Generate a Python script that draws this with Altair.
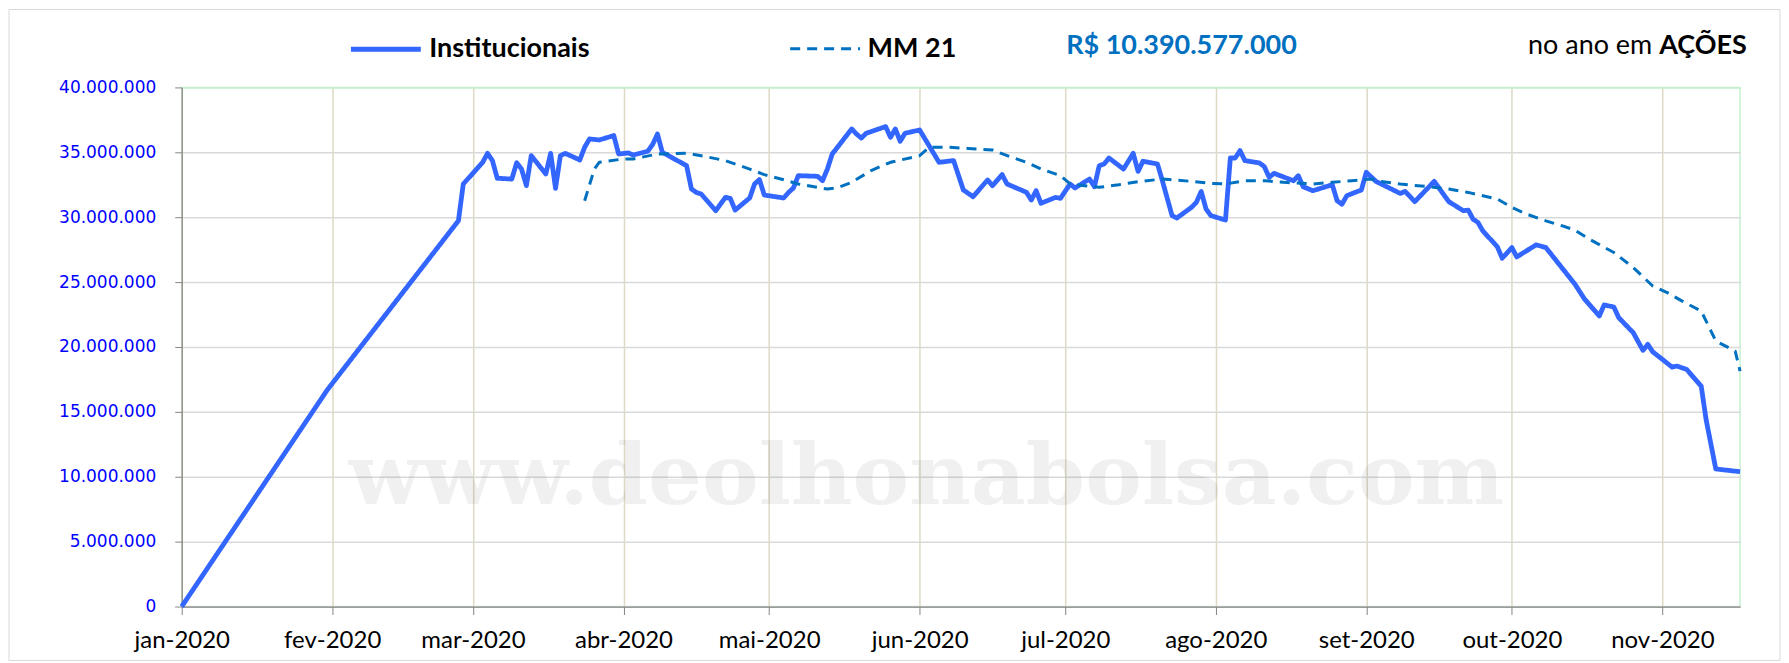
import altair as alt
import pandas as pd

# ---------------- data (values in millions) ----------------
inst_dates = [
    "2020-01-01", "2020-01-31", "2020-02-27", "2020-02-28",
    "2020-03-03", "2020-03-04", "2020-03-05", "2020-03-06", "2020-03-09", "2020-03-10", "2020-03-11",
    "2020-03-12", "2020-03-13", "2020-03-16", "2020-03-17", "2020-03-18", "2020-03-19", "2020-03-20",
    "2020-03-23", "2020-03-24", "2020-03-25", "2020-03-27", "2020-03-30", "2020-03-31",
    "2020-04-02", "2020-04-03", "2020-04-06", "2020-04-07", "2020-04-08", "2020-04-09", "2020-04-14",
    "2020-04-15", "2020-04-16", "2020-04-17", "2020-04-20", "2020-04-22", "2020-04-23", "2020-04-24",
    "2020-04-27", "2020-04-28", "2020-04-29", "2020-04-30",
    "2020-05-04", "2020-05-05", "2020-05-06", "2020-05-07", "2020-05-11", "2020-05-12", "2020-05-13",
    "2020-05-14", "2020-05-18", "2020-05-19", "2020-05-20", "2020-05-21", "2020-05-25", "2020-05-26",
    "2020-05-27", "2020-05-28", "2020-05-29",
    "2020-06-01", "2020-06-05", "2020-06-08", "2020-06-10", "2020-06-12", "2020-06-15", "2020-06-16",
    "2020-06-18", "2020-06-19", "2020-06-23", "2020-06-24", "2020-06-25", "2020-06-26", "2020-06-29",
    "2020-06-30",
    "2020-07-02", "2020-07-03", "2020-07-06", "2020-07-07", "2020-07-08", "2020-07-09", "2020-07-10",
    "2020-07-13", "2020-07-15", "2020-07-16", "2020-07-17", "2020-07-20", "2020-07-21", "2020-07-23",
    "2020-07-24", "2020-07-27", "2020-07-28", "2020-07-29", "2020-07-30", "2020-07-31",
    "2020-08-03", "2020-08-04", "2020-08-05", "2020-08-06", "2020-08-07", "2020-08-10", "2020-08-11",
    "2020-08-12", "2020-08-13", "2020-08-17", "2020-08-18", "2020-08-19", "2020-08-21", "2020-08-25",
    "2020-08-26", "2020-08-27", "2020-08-28", "2020-08-31",
    "2020-09-01", "2020-09-03", "2020-09-08", "2020-09-09", "2020-09-11", "2020-09-15", "2020-09-18",
    "2020-09-21", "2020-09-22", "2020-09-23", "2020-09-24", "2020-09-25", "2020-09-28", "2020-09-29",
    "2020-10-01", "2020-10-02", "2020-10-06", "2020-10-08", "2020-10-14", "2020-10-16", "2020-10-19",
    "2020-10-20", "2020-10-22", "2020-10-23", "2020-10-26", "2020-10-28", "2020-10-29", "2020-10-30",
    "2020-11-03", "2020-11-04", "2020-11-06", "2020-11-09", "2020-11-10", "2020-11-12", "2020-11-17",
]
inst_vals = [
    0, 16.7, 29.73, 32.56,
    34.23, 34.92, 34.36, 33.0, 32.94, 34.2, 33.71,
    32.43, 34.74, 33.33, 34.92, 32.22, 34.74, 34.92,
    34.41, 35.39, 36.03, 35.95, 36.29, 34.87,
    34.95, 34.79, 35.08, 35.6, 36.41, 35.0, 33.97,
    32.17, 31.91, 31.79, 30.5, 31.53, 31.45, 30.55,
    31.48, 32.56, 32.9, 31.71,
    31.48, 31.91, 32.25, 33.2, 33.15, 32.81, 33.71,
    34.87, 36.8, 36.41, 36.1, 36.47, 36.98, 36.16,
    36.8, 35.85, 36.47,
    36.72, 34.23, 34.36, 32.1, 31.58, 32.87, 32.43,
    33.28, 32.56, 31.92, 31.32, 32.04, 31.07, 31.53,
    31.45,
    32.56, 32.25, 32.94, 32.35, 33.97, 34.1, 34.56,
    33.71, 34.92, 33.53, 34.31, 34.1, 32.81, 30.12,
    29.94, 30.76, 31.14, 31.99, 30.63, 30.12,
    29.78, 34.56, 34.56, 35.13, 34.36, 34.18, 33.9,
    33.07, 33.38, 32.81, 33.2, 32.35, 32.04, 32.5,
    31.27, 31.0, 31.66, 32.1,
    33.46, 32.76, 31.83, 31.99, 31.2, 32.76, 31.2,
    30.5, 30.55, 29.85, 29.6, 28.95, 27.72, 26.84,
    27.66, 26.94, 27.87, 27.66, 24.83, 23.67, 22.39,
    23.24, 23.08, 22.26, 21.1, 19.74, 20.2, 19.63,
    18.45, 18.53, 18.27, 16.98, 14.41, 10.6, 10.39,
]

mm_dates = [
    "2020-03-24", "2020-03-26", "2020-03-27",
    "2020-04-01", "2020-04-03", "2020-04-08", "2020-04-14", "2020-04-17", "2020-04-22", "2020-04-27", "2020-04-30",
    "2020-05-04", "2020-05-07", "2020-05-13", "2020-05-15", "2020-05-18", "2020-05-22", "2020-05-26",
    "2020-06-01", "2020-06-03", "2020-06-07", "2020-06-11", "2020-06-16", "2020-06-20", "2020-06-23", "2020-06-26", "2020-06-30",
    "2020-07-02", "2020-07-05", "2020-07-08", "2020-07-12", "2020-07-16", "2020-07-21", "2020-07-27", "2020-07-31",
    "2020-08-03", "2020-08-07", "2020-08-11", "2020-08-15", "2020-08-21", "2020-08-25", "2020-08-29",
    "2020-09-02", "2020-09-04", "2020-09-08", "2020-09-14", "2020-09-18", "2020-09-22", "2020-09-28",
    "2020-10-01", "2020-10-04", "2020-10-08", "2020-10-12", "2020-10-14", "2020-10-17", "2020-10-22", "2020-10-26", "2020-10-30",
    "2020-11-02", "2020-11-05", "2020-11-09", "2020-11-12", "2020-11-16", "2020-11-17",
]
mm_vals = [
    31.27, 33.71, 34.23,
    34.49, 34.49, 34.87, 34.92, 34.74, 34.36, 33.71, 33.28,
    32.89, 32.56, 32.17, 32.25, 32.69, 33.59, 34.23,
    34.74, 35.39, 35.39, 35.3, 35.18, 34.61, 34.23, 33.71, 33.2,
    32.56, 32.43, 32.3, 32.5, 32.74, 32.94, 32.76, 32.6,
    32.56, 32.81, 32.81, 32.69, 32.56, 32.69, 32.81,
    32.94, 32.76, 32.55, 32.35, 32.17, 31.91, 31.4,
    30.75, 30.24, 29.72, 29.26, 29.0, 28.3, 27.28, 26.12, 24.7,
    24.19, 23.55, 22.77, 20.46, 19.68, 18.14,
]

series_names = ["Institucionais", "MM 21"]
series_colors = ["#3366FF", "#0070C0"]
month_labels = ["jan", "fev", "mar", "abr", "mai", "jun", "jul", "ago", "set", "out", "nov", "dez"]
y_ticks = [0, 5000000, 10000000, 15000000, 20000000, 25000000, 30000000, 35000000, 40000000]
total_label = "R$ 10.390.577.000"

assert len(inst_dates) == len(inst_vals)
assert len(mm_dates) == len(mm_vals)

df = pd.DataFrame({
    "data": inst_dates + mm_dates,
    "valor": [v * 1e6 for v in inst_vals + mm_vals],
    "serie": [series_names[0]] * len(inst_dates) + [series_names[1]] * len(mm_dates),
})


def ms(s):
    return int(pd.Timestamp(s, tz="UTC").timestamp() * 1000)


x_ticks = [ms(f"2020-{m:02d}-01") for m in range(1, 12)]
x_domain = [ms("2020-01-01"), ms("2020-11-17")]

W, H = 1561, 520
TOP_FS = 27

legend = alt.Legend(
    orient="none", legendX=167, legendY=-76, direction="horizontal", title=None,
    symbolType="stroke", symbolSize=4900, labelFont="Lato", labelFontSize=TOP_FS,
    labelFontWeight="bold", labelColor="#000000", labelOffset=6, columnPadding=194,
    labelLimit=400, padding=0,
)

x_enc = alt.X(
    "data:T",
    scale=alt.Scale(type="utc", domain=x_domain),
    axis=alt.Axis(
        values=x_ticks, title=None,
        labelExpr="['" + "','".join(month_labels) + "'][utcmonth(datum.value)] + '-' + utcyear(datum.value)",
        labelFont="Lato", labelFontSize=24, labelColor="#000000", labelPadding=14,
        labelFlush=False, labelOverlap=False,
        tickSize=8, tickColor="#868686", domainColor="#868686", domainWidth=1.2,
        grid=True, gridColor="#ddd9c3", gridWidth=1.5,
    ),
)
y_enc = alt.Y(
    "valor:Q",
    scale=alt.Scale(domain=[0, 40000000], nice=False, zero=True),
    axis=alt.Axis(
        values=y_ticks, title=None,
        labelExpr="join(split(format(datum.value, ','), ','), '.')",
        labelFont="DejaVu Sans", labelFontSize=17, labelColor="#0000FF", labelPadding=19,
        labelFlush=False, labelOverlap=False,
        tickSize=7, tickColor="#868686", domainColor="#868686", domainWidth=1.2,
        grid=True, gridWidth=1.5,
        gridColor={"condition": {"test": "datum.value >= 40000000", "value": "#c6efce"}, "value": "#d9d9d9"},
    ),
)

lines = alt.Chart(df).mark_line(strokeJoin="round").encode(
    x=x_enc,
    y=y_enc,
    color=alt.Color("serie:N", scale=alt.Scale(domain=series_names, range=series_colors), legend=legend),
    strokeDash=alt.StrokeDash("serie:N", scale=alt.Scale(domain=series_names, range=[[1, 0], [10, 7]]), legend=legend),
    strokeWidth=alt.StrokeWidth("serie:N", scale=alt.Scale(domain=series_names, range=[4.8, 3]), legend=legend),
)

one = alt.Data(values=[{}])

border = alt.Chart(one).mark_rect(fill="#ffffff", fillOpacity=0, stroke="#d9d9d9", strokeWidth=1).encode(
    x=alt.value(-173), x2=alt.value(W + 40), y=alt.value(-78), y2=alt.value(H + 54)
)

watermark = alt.Chart(one).mark_text(
    text="www.deolhonabolsa.com", font="DejaVu Serif", fontWeight="bold", fontSize=85,
    color="#000000", opacity=0.055, align="center", baseline="alphabetic",
).encode(x=alt.value(746), y=alt.value(417))

total_txt = alt.Chart(one).mark_text(
    text=total_label, font="Lato", fontWeight="bold", fontSize=TOP_FS, color="#0070C0",
    align="left", baseline="middle",
).encode(x=alt.value(886), y=alt.value(-41))

ano_txt = alt.Chart(one).mark_text(
    text="no ano em", font="Lato", fontSize=TOP_FS, color="#000000", align="right", baseline="middle",
).encode(x=alt.value(1473), y=alt.value(-41))

acoes_txt = alt.Chart(one).mark_text(
    text="AÇÕES", font="Lato", fontWeight="bold", fontSize=TOP_FS, color="#000000", align="left", baseline="middle",
).encode(x=alt.value(1480), y=alt.value(-41))

chart = alt.layer(border, watermark, lines, total_txt, ano_txt, acoes_txt).properties(
    width=W, height=H, padding=0, background="#ffffff"
).configure_view(stroke="#c6efce", strokeWidth=1.5)

chart.save("out.html", embed_options={"renderer": "svg", "actions": False})
